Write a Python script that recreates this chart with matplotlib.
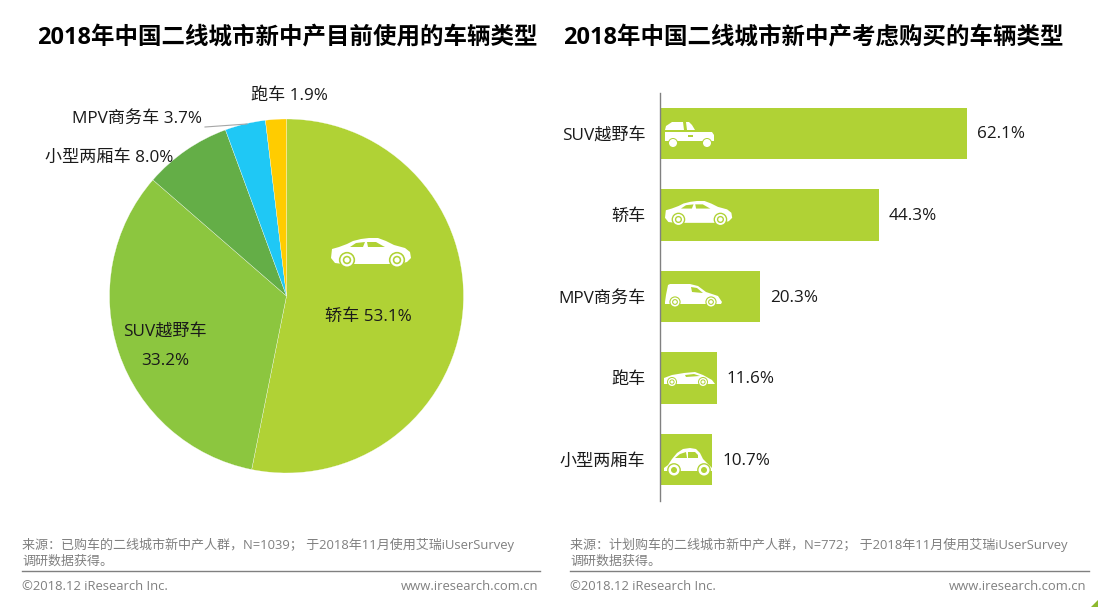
import matplotlib
matplotlib.use('Agg')
import matplotlib.pyplot as plt
from matplotlib.patches import Circle, Polygon

plt.rcParams['font.family'] = ['Open Sans', 'Noto Sans CJK SC', 'DejaVu Sans']

# left chart: vehicles in use
pie_names = ['轿车', 'SUV越野车', '小型两厢车', 'MPV商务车', '跑车']
pie_values = [53.1, 33.2, 8.0, 3.7, 1.9]
pie_colors = ['#B0D235', '#8CC63F', '#64AE47', '#1FC8F5', '#FFCC00']

# right chart: vehicles considered
bar_names = ['SUV越野车', '轿车', 'MPV商务车', '跑车', '小型两厢车']
bar_values = [62.1, 44.3, 20.3, 11.6, 10.7]

GREEN = '#B0D235'
GRAY = '#808080'
INK = '#1A1A1A'
W, H = 1098, 607


def axes_px(fig, left, top, width, height):
    return fig.add_axes([left / W, 1 - (top + height) / H, width / W, height / H])


def poly(ax, pts, ox, oy, s, color='white'):
    ax.add_patch(Polygon([(ox + x * s, oy + y * s) for x, y in pts], closed=True,
                         fc=color, ec='none', zorder=5))


def wheel(ax, x, y, r, gap=True):
    # ring of bar colour around a white hub
    ax.add_patch(Circle((x, y), r * 1.25, fc=GREEN, ec='none', zorder=6))
    ax.add_patch(Circle((x, y), r, fc='white', ec='none', zorder=6))
    if gap:
        ax.add_patch(Circle((x, y), r * 0.65, fc=GREEN, ec='none', zorder=6))
        ax.add_patch(Circle((x, y), r * 0.4, fc='white', ec='none', zorder=6))


def sedan(ax, ox, oy, s):
    body = [(1, 11), (8, 9), (16, 6), (22, 3), (30, 1), (38, 0), (47, 0), (55, 3), (63, 7),
            (74, 10), (79, 14), (80, 20), (76, 24), (68, 26), (12, 26), (4, 25), (0, 20)]
    poly(ax, body, ox, oy, s)
    poly(ax, [(19, 9), (25, 5), (34, 4), (32, 9)], ox, oy, s, GREEN)
    poly(ax, [(36, 4), (45, 4), (52, 8), (54, 9), (37, 9)], ox, oy, s, GREEN)
    wheel(ax, ox + 16 * s, oy + 22 * s, 6.5 * s)
    wheel(ax, ox + 66 * s, oy + 22 * s, 6.5 * s)


def suv(ax):
    poly(ax, [(665, 130), (666, 126), (672, 122), (683, 122), (684, 130)], 0, 0, 1)
    poly(ax, [(686, 122), (689, 122), (692, 125), (695, 130), (687, 130)], 0, 0, 1)
    poly(ax, [(665, 132), (712, 132), (714, 135), (714, 141), (665, 141)], 0, 0, 1)
    poly(ax, [(688, 135), (693, 135), (693, 137), (688, 137)], 0, 0, 1, GREEN)
    wheel(ax, 673, 143, 4, gap=False)
    wheel(ax, 707, 143, 4, gap=False)


def mpv(ax):
    poly(ax, [(665, 302), (666, 295), (668, 285), (670, 284), (690, 284), (698, 286),
              (706, 292), (718, 296), (722, 302), (721, 304), (665, 304)], 0, 0, 1)
    poly(ax, [(691, 287), (697, 288), (703, 293), (692, 292)], 0, 0, 1, GREEN)
    wheel(ax, 675, 302, 4.5)
    wheel(ax, 711, 302, 4.5)


def sports(ax):
    poly(ax, [(664, 378), (672, 375), (684, 373), (695, 372), (703, 375), (712, 380),
              (715, 384), (664, 384)], 0, 0, 1)
    poly(ax, [(685, 375), (694, 374), (700, 376), (686, 377)], 0, 0, 1, GREEN)
    wheel(ax, 672, 382, 4)
    wheel(ax, 703, 382, 4)


def beetle(ax):
    poly(ax, [(664, 468), (668, 465), (672, 459), (677, 453), (683, 449), (690, 448), (696, 449),
              (700, 453), (703, 459), (708, 464), (712, 468), (712, 471), (664, 471)], 0, 0, 1)
    poly(ax, [(675, 458), (680, 454), (686, 452), (687, 458)], 0, 0, 1, GREEN)
    poly(ax, [(688, 452), (695, 452), (698, 455), (698, 458), (688, 458)], 0, 0, 1, GREEN)
    wheel(ax, 674, 470, 5.5, gap=False)
    ax.add_patch(Circle((674, 470), 3, fc=GREEN, ec='none', zorder=7))
    wheel(ax, 704, 470, 5.5, gap=False)
    ax.add_patch(Circle((704, 470), 3, fc=GREEN, ec='none', zorder=7))


fig = plt.figure(figsize=(W / 100, H / 100), dpi=100, facecolor='white')

# pie
ax_pie = axes_px(fig, 109.5, 119, 354, 354)
ax_pie.pie(pie_values, colors=pie_colors, startangle=90, counterclock=False, radius=1,
           wedgeprops={'edgecolor': 'white', 'linewidth': 0.2})
ax_pie.set_xlim(-1, 1)
ax_pie.set_ylim(-1, 1)

# bars
ax_bar = axes_px(fig, 659.5, 92.5, 400, 408)
ax_bar.barh(range(len(bar_values)), bar_values, height=0.63, color=GREEN)
ax_bar.set_xlim(0, 400 / 4.944)
ax_bar.set_ylim(4.5, -0.5)
ax_bar.set_yticks(range(len(bar_names)), bar_names, fontsize=12.3, color=INK)
ax_bar.tick_params(axis='y', length=0, pad=10)
ax_bar.set_xticks([])
for side in ['top', 'right', 'bottom']:
    ax_bar.spines[side].set_visible(False)
ax_bar.spines['left'].set_color(GRAY)
ax_bar.spines['left'].set_linewidth(1)
for i, v in enumerate(bar_values):
    ax_bar.annotate(f'{v}%', (v, i), xytext=(10, -1), textcoords='offset pixels',
                    va='center', ha='left', fontsize=12.3, color=INK)

# overlay in pixel coordinates for text, icons and footer
ov = fig.add_axes([0, 0, 1, 1], zorder=10)
ov.set_xlim(0, W)
ov.set_ylim(H, 0)
ov.axis('off')

ov.text(37, 38, '2018年中国二线城市新中产目前使用的车辆类型', fontsize=16.9, fontweight='bold',
        color='black', va='center')
ov.text(563, 38, '2018年中国二线城市新中产考虑购买的车辆类型', fontsize=16.9, fontweight='bold',
        color='black', va='center')

ov.text(251, 96, f'{pie_names[4]} {pie_values[4]}%', fontsize=12.3, color=INK, va='center')
ov.text(72, 119, f'{pie_names[3]} {pie_values[3]}%', fontsize=12.3, color=INK, va='center')
ov.text(45, 158, f'{pie_names[2]} {pie_values[2]}%', fontsize=12.3, color=INK, va='center')
ov.text(165, 332, pie_names[1], fontsize=12.3, color=INK, va='center', ha='center')
ov.text(165, 361, f'{pie_values[1]}%', fontsize=12.3, color=INK, va='center', ha='center')
ov.text(325, 317, f'{pie_names[0]} {pie_values[0]}%', fontsize=12.3, color=INK, va='center')
ov.plot([205, 247], [127, 124], color='#A6A6A6', lw=0.8)

sedan(ov, 331, 238, 1.0)
suv(ov)
sedan(ov, 665, 201, 0.84)
mpv(ov)
sports(ov)
beetle(ov)

# footers
sources = [
    (22, 540, 538, '来源：已购车的二线城市新中产人群，N=1039； 于2018年11月使用艾瑞iUserSurvey'),
    (570, 1089, 1086, '来源：计划购车的二线城市新中产人群，N=772； 于2018年11月使用艾瑞iUserSurvey'),
]
for x0, x1, xr, line in sources:
    ov.text(x0, 545, line, fontsize=9.4, color=GRAY, va='center')
    ov.text(x0, 561, '调研数据获得。', fontsize=9.4, color=GRAY, va='center')
    ov.plot([x0, x1], [571, 571], color=GRAY, lw=1)
    ov.text(x0, 587, '©2018.12 iResearch Inc.', fontsize=9.4, color=GRAY, va='center')
    ov.text(xr, 587, 'www.iresearch.com.cn', fontsize=9.4, color=GRAY, va='center', ha='right')

ov.add_patch(Polygon([(1091, 607), (1098, 600), (1098, 607)], closed=True, fc='#8DB92E', ec='none'))

fig.savefig('out.png', dpi=100)
